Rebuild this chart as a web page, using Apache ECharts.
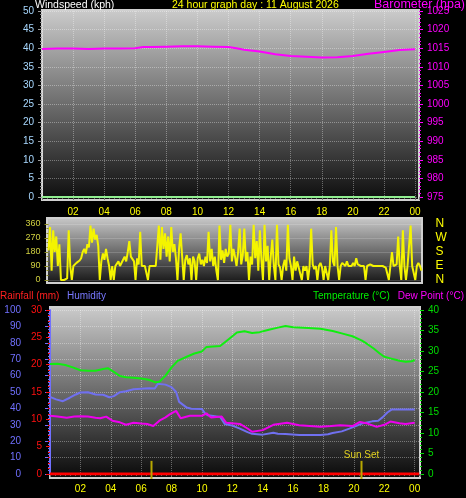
<!DOCTYPE html>
<html>
<head>
<meta charset="utf-8">
<title>24 hour graph</title>
<script src="https://cdn.jsdelivr.net/npm/echarts@6/dist/echarts.min.js"></script>
<style>
  html, body { margin: 0; padding: 0; background: #000; }
  #main { width: 466px; height: 498px; }
</style>
</head>
<body>
<div id="main"></div>
<script>
// ---- data ----
const windHours = [0, 6, 12, 18, 24]
const windSpeed = [0, 0, 0, 0, 0]

const baroHours = [0, 1, 2, 3, 4, 5, 6, 6.5, 7, 8, 9, 10, 11, 12, 12.5, 13, 14, 15, 16, 17, 18, 19, 20, 21, 22, 23, 24]
const baro = [1014.8, 1014.9, 1014.9, 1014.8, 1014.9, 1014.9, 1015.0, 1015.3, 1015.3, 1015.4, 1015.5, 1015.5, 1015.4, 1015.3, 1015.0,
  1014.6, 1014.1, 1013.4, 1012.9, 1012.7, 1012.5, 1012.6, 1012.9, 1013.5, 1014.0, 1014.5, 1014.7]

// wind direction, one reading every 6 minutes from 00:00
const windDirStep = 0.1
const windDir = [
  190, 340, 60, 320, 180, 280, 90, 230, 0, 0,
  0, 0, 10, 320, 90, 0, 90, 90, 110, 120,
  125, 140, 180, 200, 170, 230, 210, 350, 240, 330,
  260, 290, 220, 0, 120, 170, 130, 200, 140, 90,
  0, 90, 0, 90, 90, 120, 90, 100, 130, 150,
  120, 180, 250, 150, 160, 120, 0, 140, 100, 310,
  90, 90, 90, 90, 0, 90, 90, 90, 90, 90,
  90, 350, 130, 340, 200, 300, 150, 280, 120, 340,
  180, 230, 140, 0, 200, 300, 150, 0, 130, 160,
  100, 140, 0, 150, 120, 0, 140, 170, 100, 130,
  90, 150, 110, 310, 120, 200, 90, 150, 60, 0,
  350, 130, 190, 110, 200, 150, 170, 355, 120, 200,
  150, 90, 180, 330, 100, 160, 330, 120, 180, 0,
  150, 100, 355, 140, 250, 60, 320, 130, 0, 355,
  120, 220, 0, 150, 260, 90, 0, 355, 100, 80,
  0, 90, 130, 60, 355, 140, 90, 0, 150, 60,
  120, 80, 90, 0, 90, 60, 90, 0, 90, 330,
  100, 70, 90, 0, 90, 110, 80, 0, 90, 100,
  0, 90, 320, 120, 90, 340, 90, 0, 90, 110,
  100, 90, 120, 90, 100, 90, 110, 90, 140, 100,
  90, 90, 100, 90, 0, 90, 90, 100, 90, 90,
  80, 90, 100, 90, 90, 90, 90, 80, 90, 0,
  90, 180, 90, 90, 100, 280, 90, 0, 320, 90,
  0, 90, 100, 350, 90, 90, 0, 90, 110, 90,
  60
]
const compassLabels = { 0: 'N', 90: 'E', 180: 'S', 270: 'W', 360: 'N' }

const rainHours = [0, 6, 12, 18, 24.3]
const rain = [0, 0, 0, 0, 0]

const tempHours = [0, 0.5, 1, 1.5, 2, 2.5, 3, 3.5, 3.8, 4.2, 4.6, 5, 5.5, 6, 6.5, 6.9, 7.2, 7.6, 8, 8.4, 9, 9.5, 10, 10.3, 11.2,
  11.8, 12.3, 12.8, 13.3, 13.8, 14.4, 15, 15.5, 16, 17, 17.8, 18.6, 19.2, 19.9, 20.5, 20.8, 21.3, 21.7, 22, 22.4, 23, 23.4, 23.8, 24]
const temp = [26.8, 26.9, 26.6, 26.0, 25.3, 25.2, 25.2, 25.6, 25.8, 24.9, 23.9, 23.6, 23.5, 23.3, 23.0, 22.4, 22.5, 24.0, 26.0, 27.6,
  28.6, 29.4, 29.9, 31.0, 31.2, 33.0, 34.5, 34.8, 34.4, 34.6, 35.2, 35.7, 36.1, 35.8, 35.6, 35.4, 34.9, 34.3, 33.6, 32.6, 31.9,
  30.6, 29.4, 28.6, 28.2, 27.6, 27.4, 27.5, 27.8]

const humHours = [0, 0.4, 0.85, 1.3, 1.7, 2, 2.5, 3, 3.5, 3.9, 4.2, 4.6, 5, 5.5, 6, 6.5, 6.9, 7.1, 7.6, 8, 8.3, 8.5, 9, 9.3, 10,
  10.2, 10.4, 11.2, 11.5, 12, 12.5, 13, 13.3, 14, 14.7, 15, 15.5, 16.4, 17.8, 18.3, 18.6, 19.2, 19.7, 20.2, 20.6, 21.2, 21.6,
  21.9, 22.2, 22.5, 23, 24]
const humidity = [47, 45.5, 44.4, 46.5, 48.5, 49.7, 49.8, 48.5, 48.3, 46.8, 47.5, 49.9, 50.5, 51.7, 52.0, 52.3, 52.2, 55, 54.5, 53,
  50, 44, 40.5, 39.8, 39.6, 37, 35.8, 34.8, 30.5, 29.5, 27.7, 25.5, 24.5, 24.0, 25.2, 24.6, 24.4, 23.8, 23.8, 24.2, 25.0, 26.0,
  27.7, 29.5, 31.0, 32.1, 32.5, 34.7, 37.5, 39.4, 39.4, 39.4]

const dewHours = [0, 0.5, 1.1, 1.6, 2, 2.5, 3, 3.3, 3.7, 4.1, 4.6, 5, 5.5, 6, 6.4, 6.8, 7.2, 7.6, 7.9, 8.3, 8.6, 9.2, 10, 10.3,
  10.6, 11.3, 11.6, 12.5, 13, 13.3, 14, 14.7, 15.6, 16.4, 17.8, 18.5, 19.1, 19.9, 20.4, 20.9, 21.5, 22, 22.4, 23, 23.4, 24]
const dewPoint = [14.2, 14.0, 13.7, 14.0, 14.1, 14.0, 13.7, 13.6, 14.0, 13.0, 12.6, 12.0, 12.5, 12.3, 12.2, 11.7, 13.0, 13.8, 14.6,
  15.4, 13.6, 14.2, 14.2, 14.8, 13.8, 14.0, 12.5, 12.2, 11.1, 10.3, 10.7, 12.0, 12.5, 11.9, 11.5, 11.7, 11.9, 11.7, 12.7, 12.3,
  11.5, 12.0, 12.8, 12.4, 12.2, 12.5]

const sunRise = 6.68
const sunSet = 20.5
const sunMarkRange = [-1.2, 3.2]   // bar span on the temperature scale

// ---- helpers ----
const font = 'Liberation Sans, Arial, sans-serif'
const dotted = { type: 'dotted', color: 'rgba(255,255,255,0.35)', width: 1 }

function pair(xs, ys) {
  return xs.map((x, i) => [x, ys[i]])
}

function hourLabel(v) {
  if (v <= 0 || Math.abs(v % 2) > 1e-6) return ''
  const h = Math.round(v) % 24
  return (h < 10 ? '0' : '') + h
}

function panel(x, y, w, h, top, bottom) {
  return {
    type: 'rect', z: -10, silent: true,
    shape: { x: x, y: y, width: w, height: h },
    style: {
      fill: new echarts.graphic.LinearGradient(0, 0, 0, 1, [
        { offset: 0, color: top },
        { offset: 1, color: bottom }
      ]),
      stroke: '#d0d0d0', lineWidth: 2
    }
  }
}

function text(str, x, y, color, align, size) {
  return {
    type: 'text', z: 10, silent: true, x: x, y: y,
    style: { text: str, fill: color, font: (size || 10.5) + 'px ' + font, textAlign: align || 'left', textVerticalAlign: 'middle' }
  }
}

function hourAxis(grid, max, showLabels) {
  return {
    gridIndex: grid, type: 'value', min: 0, max: max, interval: 2,
    axisLine: { show: false },
    axisTick: { show: showLabels, length: 3, lineStyle: { color: '#777' } },
    minorTick: { show: showLabels, splitNumber: 6, length: 2, lineStyle: { color: '#666' } },
    axisLabel: { show: showLabels, color: '#ffff00', fontSize: 10, fontFamily: font, margin: 10, formatter: hourLabel },
    splitLine: { show: showLabels, lineStyle: dotted }
  }
}

function valueAxis(grid, pos, min, max, interval, color, opts) {
  opts = opts || {}
  return {
    gridIndex: grid, type: 'value', position: pos, offset: opts.offset || 0,
    min: min, max: max, interval: interval,
    axisLine: { show: !!opts.line, lineStyle: { color: color, width: 2 } },
    axisTick: { show: true, length: opts.tick || 4, lineStyle: { color: opts.tickColor || color } },
    minorTick: { show: true, splitNumber: opts.minor || 5, length: 2, lineStyle: { color: opts.tickColor || color } },
    axisLabel: {
      color: color, fontSize: opts.fontSize || 10, fontFamily: font, margin: opts.margin || 8,
      formatter: v => String(v)
    },
    splitLine: { show: !!opts.split, lineStyle: dotted }
  }
}

function lineSeries(name, x, y, data, color, width) {
  return {
    name: name, type: 'line', xAxisIndex: x, yAxisIndex: y, data: data,
    showSymbol: false, silent: true, animation: false,
    lineStyle: { color: color, width: width || 2 }
  }
}

// ---- chart ----
const chart = echarts.init(document.getElementById('main'))

const sunSeries = [sunRise, sunSet].map((h, i) => ({
  type: 'line', xAxisIndex: 2, yAxisIndex: 6, clip: false, silent: true, animation: false,
  symbol: 'none', symbolSize: 0, showSymbol: true,
  lineStyle: { color: '#b8a800', width: 2 },
  data: [
    [h, sunMarkRange[0]],
    i === 1
      ? { value: [h, sunMarkRange[1]], symbol: 'circle', label: { show: true, position: 'top', distance: 1, formatter: 'Sun Set', color: '#e0d020', fontSize: 10, fontFamily: font } }
      : [h, sunMarkRange[1]]
  ]
}))

chart.setOption({
  backgroundColor: '#000',
  animation: false,
  grid: [
    { left: 42, top: 11, width: 377, height: 186 },
    { left: 48.5, top: 224, width: 373, height: 56 },
    { left: 50, top: 310, width: 370, height: 164 }
  ],
  xAxis: [
    hourAxis(0, 24.25, true),
    hourAxis(1, 24, false),
    hourAxis(2, 24.35, true)
  ],
  yAxis: [
    valueAxis(0, 'left', 0, 50, 5, '#a8d8ff', { tickColor: '#999', split: true }),
    valueAxis(0, 'right', 975, 1025, 5, '#ff00ff'),
    valueAxis(1, 'left', 0, 360, 90, '#d0d040', { tickColor: '#8a8a20', fontSize: 9, minor: 3, split: true }),
    {
      gridIndex: 1, type: 'value', position: 'right', min: 0, max: 360, interval: 90,
      axisLine: { show: false }, axisTick: { show: false }, splitLine: { show: false },
      axisLabel: { color: '#ffff00', fontSize: 12, fontFamily: font, margin: 14, formatter: v => compassLabels[v] || '' }
    },
    valueAxis(2, 'left', 0, 100, 10, '#7070ff', { offset: 20, line: true, tick: 5, margin: 9, split: true }),
    valueAxis(2, 'left', 0, 30, 5, '#ff1010'),
    valueAxis(2, 'right', 0, 40, 5, '#00dd00')
  ],
  graphic: [
    panel(42, 10, 377, 190, '#cccccc', '#0c0c0c'),
    panel(47, 218, 375, 65, '#cacaca', '#141414'),
    panel(50, 307, 370, 171, '#cccccc', '#080808'),
    text('Windspeed (kph)', 35, 5, '#ffffff'),
    text('24 hour graph day : 11 August 2026', 172, 5, '#ffff00'),
    text('Barometer (hpa)', 465, 5, '#ff00ff', 'right', 12.5),
    text('Rainfall (mm)', 0, 296, '#ff2020', 'left', 10),
    text('Humidity', 67, 296, '#7878ff', 'left', 10),
    text('Temperature (\u00b0C)', 313, 296, '#00ee00', 'left', 10),
    text('Dew Point (\u00b0C)', 464, 296, '#ff00ff', 'right', 10)
  ],
  series: [
    lineSeries('Windspeed', 0, 0, pair(windHours, windSpeed), '#90ee90', 2),
    lineSeries('Barometer', 0, 1, pair(baroHours, baro), '#ff00ff', 2),
    lineSeries('Wind direction', 1, 2, windDir.map((v, i) => [i * windDirStep, v]), '#f4f400', 2),
    lineSeries('Rainfall', 2, 5, pair(rainHours, rain), '#ff0000', 3),
    lineSeries('Humidity', 2, 4, pair(humHours, humidity), '#7070f0', 2),
    lineSeries('Temperature', 2, 6, pair(tempHours, temp), '#10ee10', 2),
    lineSeries('Dew Point', 2, 6, pair(dewHours, dewPoint), '#ee00ee', 2)
  ].concat(sunSeries)
})
</script>
</body>
</html>
